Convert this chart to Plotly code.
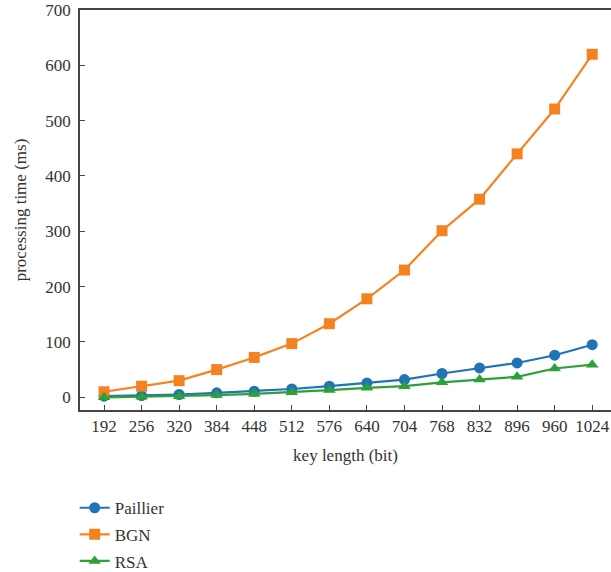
import plotly.graph_objects as go

key_lengths = ["192", "256", "320", "384", "448", "512", "576", "640", "704", "768", "832", "896", "960", "1024"]
paillier = [2, 3, 5, 8, 11, 15, 20, 26, 32, 43, 53, 62, 76, 95]
bgn = [10, 20, 30, 50, 72, 97, 133, 178, 230, 301, 358, 440, 521, 620]
rsa = [0, 1, 2, 4, 6, 9, 13, 17, 20, 27, 32, 37, 52, 59]

FONT = "Liberation Serif"

fig = go.Figure()
series = [
    ("Paillier", paillier, "#1f74b6", "circle"),
    ("BGN", bgn, "#f58220", "square"),
    ("RSA", rsa, "#2ca039", "triangle-up"),
]
for name, vals, color, sym in series:
    fig.add_trace(go.Scatter(
        x=key_lengths, y=vals, name=name, mode="lines+markers",
        line=dict(color=color, width=2.2),
        marker=dict(symbol=sym, size=11, color=color),
        legendgroup=name,
    ))

fig.update_layout(
    width=611, height=572,
    margin=dict(l=80, r=0, t=10, b=162, autoexpand=False),
    plot_bgcolor="white", paper_bgcolor="white",
    font=dict(family=FONT, size=17, color="#333333"),
    showlegend=True,
    legend=dict(x=-0.01, xanchor="left", yref="container", y=0.143, yanchor="top",
                font=dict(family=FONT, size=17, color="#333333"),
                tracegroupgap=1.5, bgcolor="rgba(0,0,0,0)"),
    xaxis=dict(
        type="category", range=[-0.64, 13.5],
        showline=True, linecolor="#444444", linewidth=1.5, mirror=True,
        ticks="inside", ticklen=5, tickcolor="#444444",
        showgrid=False, zeroline=False,
        title=dict(text="key length (bit)", font=dict(size=17), standoff=14),
    ),
    yaxis=dict(
        range=[-23, 700], tickvals=[0, 100, 200, 300, 400, 500, 600, 700],
        showline=True, linecolor="#444444", linewidth=1.5,
        ticks="inside", ticklen=5, tickcolor="#444444",
        showgrid=False, zeroline=False, ticklabelstandoff=4,
        title=dict(text="processing time (ms)", font=dict(size=17), standoff=14),
    ),
)

fig.write_html("out.html")
